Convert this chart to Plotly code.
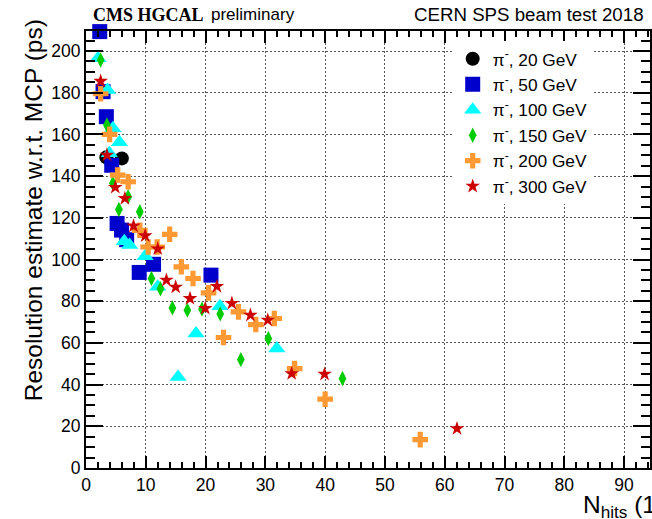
import plotly.graph_objects as go

# Number of hits vs. timing resolution estimate w.r.t. MCP, per pion beam energy
x_20 = [3.4, 6.0]
y_20 = [149, 148.5]

x_50 = [2.3, 2.85, 3.4, 4.3, 5.2, 5.95, 6.8, 8.9, 11.3, 20.9]
y_50 = [209.3, 180.5, 168.5, 145.2, 117.3, 114.1, 109.5, 93.8, 97.7, 92.5]

x_100 = [2.0, 3.6, 4.5, 5.6, 3.9, 6.4, 7.3, 9.9, 12.0, 15.4, 18.4, 22.4, 31.9]
y_100 = [196.5, 181.3, 162.9, 156.3, 151, 108.8, 106.9, 101.6, 86.9, 43.7, 64.5, 77.6, 57.3]

x_150 = [2.45, 3.5, 4.5, 7.05, 5.5, 9.0, 10.95, 12.45, 14.45, 16.95, 19.4, 22.45, 25.9, 30.5, 42.9]
y_150 = [195.7, 164.5, 136.6, 130.1, 124, 122.9, 90.9, 86.0, 76.8, 75.7, 76.2, 73.9, 52, 62.1, 42.9]

x_200 = [2.45, 3.95, 5.3, 7.05, 9.0, 10.4, 11.9, 14.0, 15.95, 17.9, 20.5, 23.0, 25.5, 28.4, 31.5, 34.9, 40.0, 55.9]
y_200 = [179.5, 160, 140.5, 137.3, 114, 106, 106, 112.1, 96.5, 90.9, 84, 62.6, 74.9, 68.8, 71.7, 47.7, 33, 13.6]

x_300 = [2.45, 3.5, 4.9, 6.5, 7.95, 9.9, 12.0, 13.45, 15.0, 17.4, 19.95, 21.9, 24.4, 27.5, 30.4, 34.4, 39.9, 62.05]
y_300 = [185.5, 150.1, 134.6, 129.3, 116.1, 111.4, 105.1, 90.1, 86.8, 81.3, 76.6, 87.1, 79, 73.3, 70.9, 45.3, 45, 18.9]

labels = ["π<sup>-</sup>, 20 GeV", "π<sup>-</sup>, 50 GeV", "π<sup>-</sup>, 100 GeV",
          "π<sup>-</sup>, 150 GeV", "π<sup>-</sup>, 200 GeV", "π<sup>-</sup>, 300 GeV"]

W, H = 652, 519
L, R, T, B = 86, 0, 31, 51.3
PW, PH = W - L - R, H - T - B

def px(xp):
    return (xp - L) / PW

def py(yp):
    return (H - B - yp) / PH

styles = [
    dict(symbol="circle", color="#000000", size=14),
    dict(symbol="square", color="#0000CC", size=15),
    dict(symbol="triangle-up", color="#00FFFF", size=15),
    dict(symbol="diamond-tall", color="#00CC00", size=11),
    dict(symbol="cross", color="#FF9933", size=13),
    dict(symbol="star", color="#CC0000", size=11),
]

series = [(x_20, y_20), (x_50, y_50), (x_100, y_100), (x_150, y_150), (x_200, y_200), (x_300, y_300)]

fig = go.Figure()
for (xs, ys), st, lab in zip(series, styles, labels):
    fig.add_trace(go.Scatter(
        x=xs, y=ys, mode="markers", name=lab, cliponaxis=False,
        marker=dict(symbol=st["symbol"], color=st["color"], size=st["size"], line=dict(width=0)),
    ))

font_sans = "Liberation Sans, Arial, sans-serif"

fig.update_layout(
    width=W, height=H,
    margin=dict(l=L, r=R, t=T, b=B, pad=0),
    paper_bgcolor="white", plot_bgcolor="white",
    font=dict(family=font_sans, color="black"),
    showlegend=True,
    legend=dict(
        x=px(454), y=py(41), xanchor="left", yanchor="top",
        bgcolor="white", borderwidth=0,
        font=dict(family=font_sans, size=17.3, color="black"),
        entrywidth=130, entrywidthmode="pixels",
    ),
    xaxis=dict(
        range=[0, PW / 6.0], showline=True, linecolor="black", linewidth=2, mirror="ticks",
        ticks="inside", ticklen=12, tickwidth=1.5, tickcolor="black", dtick=10, tick0=0,
        tickfont=dict(size=17.5, family=font_sans), zeroline=False,
        showgrid=True, gridcolor="#555555", gridwidth=1, griddash="1.5px,2.5px",
        minor=dict(dtick=2, ticks="inside", ticklen=6, tickwidth=1.5, tickcolor="black", showgrid=False),
    ),
    yaxis=dict(
        range=[0, PH / 2.0835], showline=True, linecolor="black", linewidth=2, mirror="ticks",
        ticks="inside", ticklen=17, tickwidth=1.5, tickcolor="black", dtick=20, tick0=0,
        tickfont=dict(size=17.5, family=font_sans), zeroline=False,
        showgrid=True, gridcolor="#555555", gridwidth=1, griddash="1.5px,2.5px",
        minor=dict(dtick=5, ticks="inside", ticklen=9, tickwidth=1.5, tickcolor="black", showgrid=False),
    ),
)

annotations = [
    dict(text="<b>CMS HGCAL</b>", x=px(91), y=py(15), xanchor="left", yanchor="middle",
         font=dict(family="Liberation Serif, Times New Roman, serif", size=18, color="black")),
    dict(text="preliminary", x=px(209), y=py(15), xanchor="left", yanchor="middle",
         font=dict(family=font_sans, size=17, color="black")),
    dict(text="CERN SPS beam test 2018", x=px(648), y=py(15), xanchor="right", yanchor="middle",
         font=dict(family=font_sans, size=18.7, color="black")),
    dict(text="Resolution estimate w.r.t. MCP (ps)", x=px(33), y=py(210), xanchor="center", yanchor="middle",
         textangle=-90, font=dict(family=font_sans, size=24.5, color="black")),
    dict(text="N<sub>hits</sub> (1)", x=px(583), y=py(506), xanchor="left", yanchor="middle",
         font=dict(family=font_sans, size=24.5, color="black")),
]
for a in annotations:
    a.update(xref="paper", yref="paper", showarrow=False)
fig.update_layout(annotations=annotations)

fig.write_html("out.html")
